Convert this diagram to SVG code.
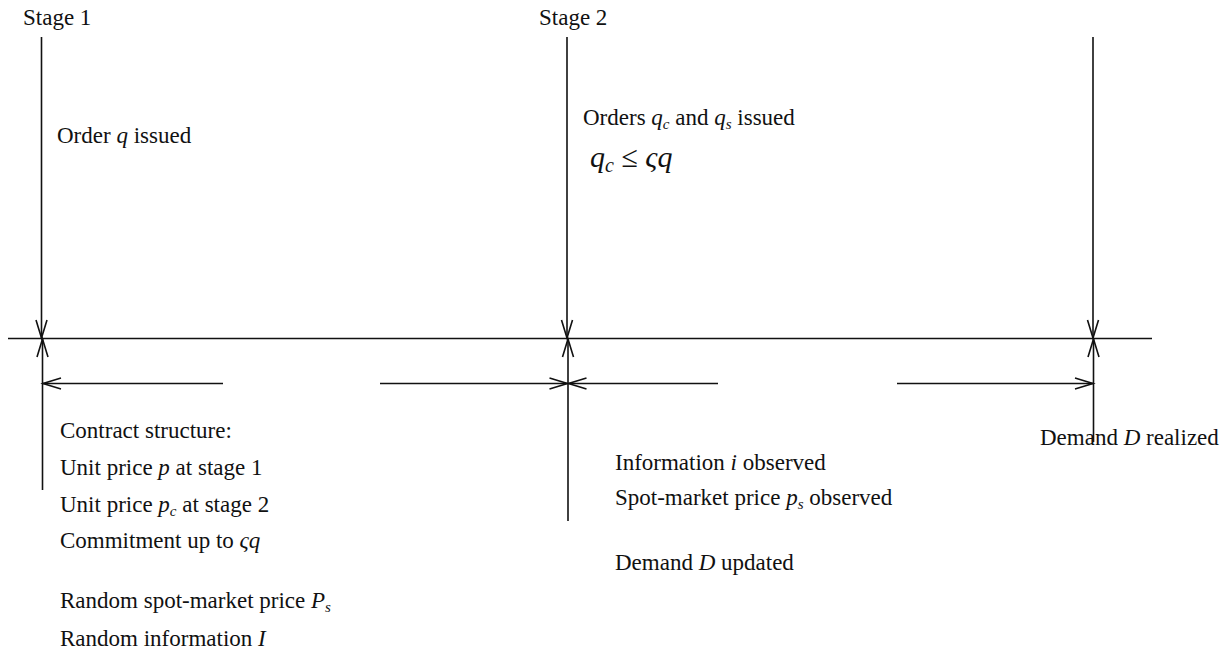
<svg xmlns="http://www.w3.org/2000/svg" width="1226" height="655" viewBox="0 0 1226 655">
<defs>
<marker id="ah" markerUnits="userSpaceOnUse" markerWidth="24" markerHeight="16" refX="0" refY="0" viewBox="-20 -8 24 16" orient="auto" overflow="visible">
<path d="M-18,-5.5 L0,0 L-18,5.5" fill="none" stroke="#111" stroke-width="1.6"/>
</marker>
<style>
text{font-family:"Liberation Serif","Times New Roman",serif;font-size:23px;fill:#111}
.m{font-style:italic}
.s{font-size:15px;font-style:italic}
.big{font-size:30px;font-style:italic}
.ln{stroke:#111;stroke-width:1.6;fill:none}
.ar{stroke:#111;stroke-width:1.6;fill:none;marker-end:url(#ah)}
</style>
</defs>
<rect width="1226" height="655" fill="#fff"/>
<g id="connectors">
<line class="ln" x1="8" y1="338.5" x2="1152" y2="338.5"/>
<line class="ar" x1="41.5" y1="37" x2="41.5" y2="338"/>
<line class="ar" x1="567" y1="37" x2="567" y2="338"/>
<line class="ar" x1="1093" y1="37" x2="1093" y2="338"/>
<line class="ar" x1="42.5" y1="490" x2="42.5" y2="339"/>
<line class="ar" x1="568" y1="521" x2="568" y2="339"/>
<line class="ar" x1="1093.5" y1="442" x2="1093.5" y2="339"/>
<line class="ar" x1="223" y1="383.5" x2="43" y2="383.5"/>
<line class="ar" x1="380" y1="383.5" x2="567.5" y2="383.5"/>
<line class="ar" x1="718" y1="383.5" x2="568.5" y2="383.5"/>
<line class="ar" x1="897" y1="383.5" x2="1093" y2="383.5"/>
</g>
<g id="stage1">
<text x="23" y="25">Stage 1</text>
<text x="57" y="143">Order <tspan class="m">q</tspan> issued</text>
</g>
<g id="stage2">
<text x="539" y="25">Stage 2</text>
<text x="583" y="125">Orders <tspan class="m">q</tspan><tspan class="s" dy="4">c</tspan><tspan dy="-4"> and </tspan><tspan class="m">q</tspan><tspan class="s" dy="4">s</tspan><tspan dy="-4"> issued</tspan></text>
<text x="590" y="167" class="big">q<tspan font-size="20" dy="5">c</tspan><tspan dy="-5" font-style="normal"> ≤ </tspan>ςq</text>
</g>
<g id="contract">
<text x="60" y="438">Contract structure:</text>
<text x="60" y="475">Unit price <tspan class="m">p</tspan> at stage 1</text>
<text x="60" y="512">Unit price <tspan class="m">p</tspan><tspan class="s" dy="4">c</tspan><tspan dy="-4"> at stage 2</tspan></text>
<text x="60" y="548">Commitment up to <tspan class="m">ςq</tspan></text>
<text x="60" y="608">Random spot-market price <tspan class="m">P</tspan><tspan class="s" dy="4">s</tspan></text>
<text x="60" y="646">Random information <tspan class="m">I</tspan></text>
</g>
<g id="observed">
<text x="615" y="470">Information <tspan class="m">i</tspan> observed</text>
<text x="615" y="505">Spot-market price <tspan class="m">p</tspan><tspan class="s" dy="4">s</tspan><tspan dy="-4"> observed</tspan></text>
<text x="615" y="570">Demand <tspan class="m">D</tspan> updated</text>
</g>
<g id="realized">
<text x="1040" y="445">Demand <tspan class="m">D</tspan> realized</text>
</g>
</svg>
